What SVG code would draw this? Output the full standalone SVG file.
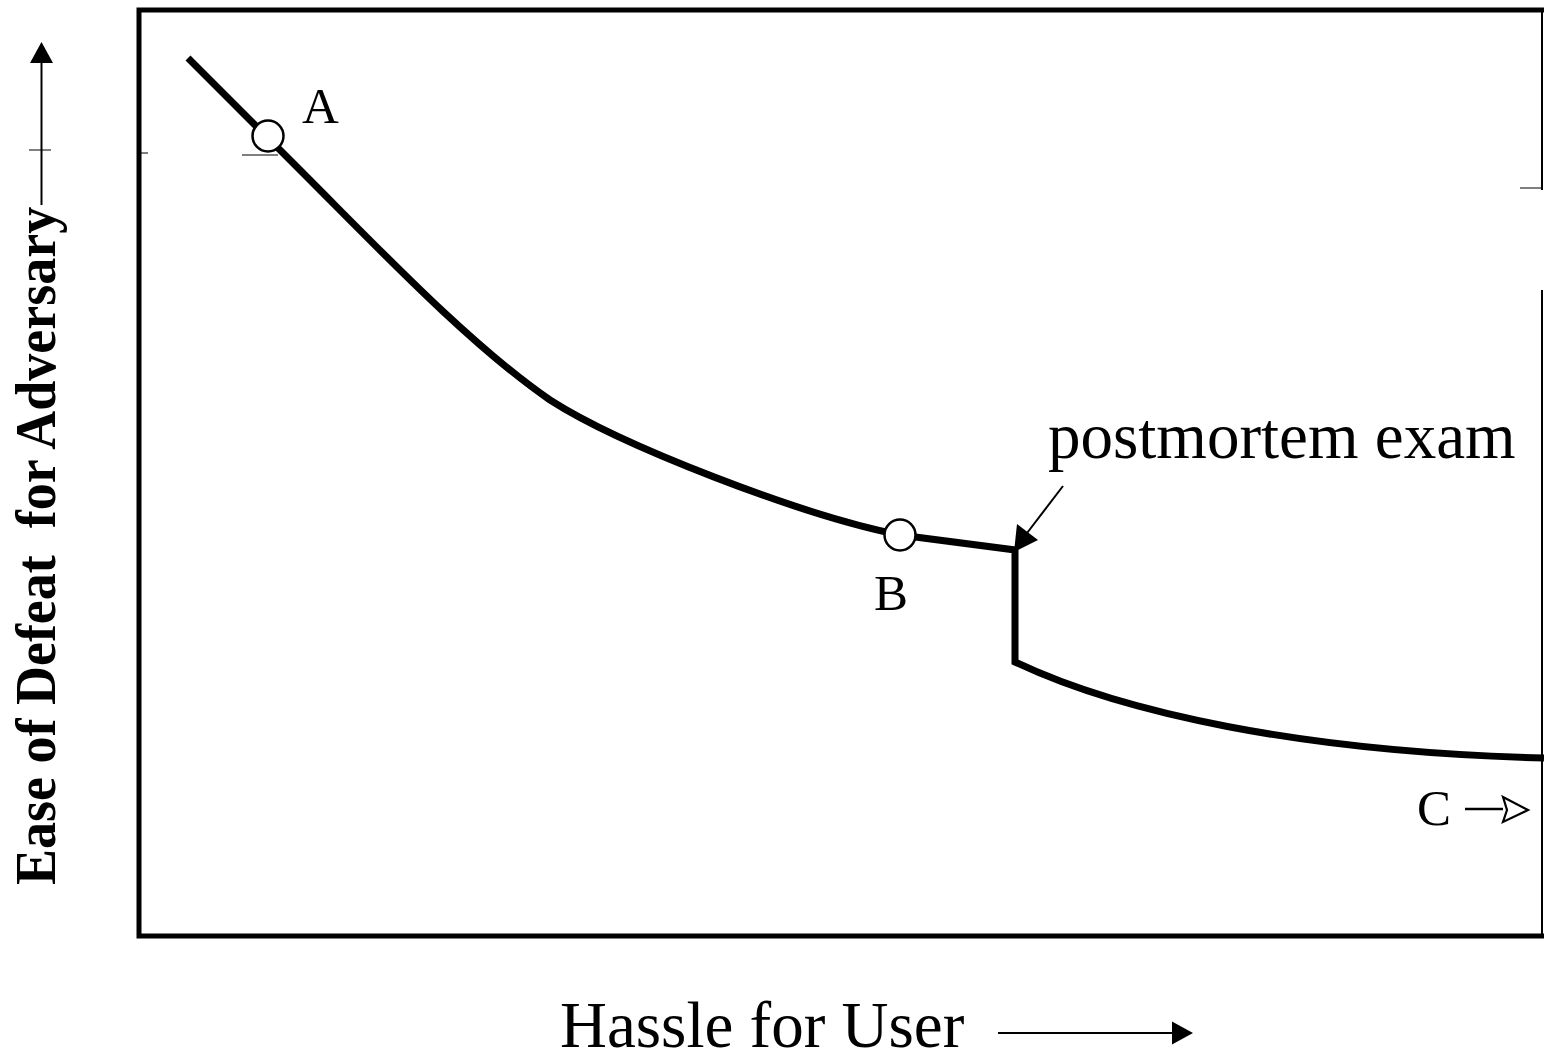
<svg xmlns="http://www.w3.org/2000/svg" width="1544" height="1062" viewBox="0 0 1544 1062">
<style>
.serif{font-family:"Liberation Serif","Times New Roman",serif;fill:#000}
.lbl{font-size:51px}
</style>
<rect width="1544" height="1062" fill="#fff"/>
<g id="frame">
<path d="M1544,10 H139 V936 H1544" fill="none" stroke="#000" stroke-width="5"/>
<line x1="1542" y1="10" x2="1542" y2="190" stroke="#000" stroke-width="2"/>
<line x1="1542" y1="290" x2="1542" y2="936" stroke="#000" stroke-width="2"/>
<line x1="1520" y1="188" x2="1542" y2="188" stroke="#000" stroke-width="1"/>
<line x1="141" y1="153" x2="148" y2="153" stroke="#000" stroke-width="1"/>
</g>
<g id="y-axis">
<line x1="41.5" y1="205" x2="41.5" y2="62" stroke="#000" stroke-width="2"/>
<path d="M30,63 L41.5,42 L53,63 Z" fill="#000"/>
<line x1="29" y1="150" x2="51" y2="150" stroke="#000" stroke-width="1"/>
<text class="serif" font-weight="bold" font-size="54" xml:space="preserve" transform="translate(55,885) rotate(-90) scale(1,1.04)">Ease of Defeat  for Adversary</text>
</g>
<g id="x-axis">
<text class="serif" font-size="65" x="560" y="1047">Hassle for User</text>
<line x1="998" y1="1033" x2="1174" y2="1033" stroke="#000" stroke-width="2"/>
<path d="M1172,1021.5 L1193,1033 L1172,1044.5 Z" fill="#000"/>
</g>
<g id="connectors">
<path id="curve" d="M188,58 L300,170 C380,250 470,345 550,400 C620,445 800,515 900,535 L1015,550 L1015,662 C1120,712 1300,752 1544,758" fill="none" stroke="#000" stroke-width="7" stroke-linejoin="miter"/>
<line x1="242" y1="155" x2="278" y2="155" stroke="#000" stroke-width="1.2"/>
<line x1="1063" y1="486" x2="1024" y2="537" stroke="#000" stroke-width="2"/>
<path d="M1014,552 L1017,524 L1038,540 Z" fill="#000"/>
<line x1="1465" y1="809" x2="1503" y2="809" stroke="#000" stroke-width="2.5"/>
<path d="M1503,797 L1528,810 L1503,822 L1507,810 Z" fill="none" stroke="#000" stroke-width="2.2" stroke-linejoin="miter"/>
</g>
<g id="node-A">
<circle cx="268" cy="136" r="15.5" fill="#fff" stroke="#000" stroke-width="2.5"/>
<text class="serif lbl" font-size="52" x="302" y="123">A</text>
</g>
<g id="node-B">
<circle cx="900" cy="535" r="15.5" fill="#fff" stroke="#000" stroke-width="2.5"/>
<text class="serif lbl" font-size="49" x="874" y="610">B</text>
</g>
<g id="label-postmortem">
<text class="serif" font-size="65" x="1048" y="458">postmortem exam</text>
</g>
<g id="node-C">
<text class="serif lbl" x="1417" y="825">C</text>
</g>
</svg>
